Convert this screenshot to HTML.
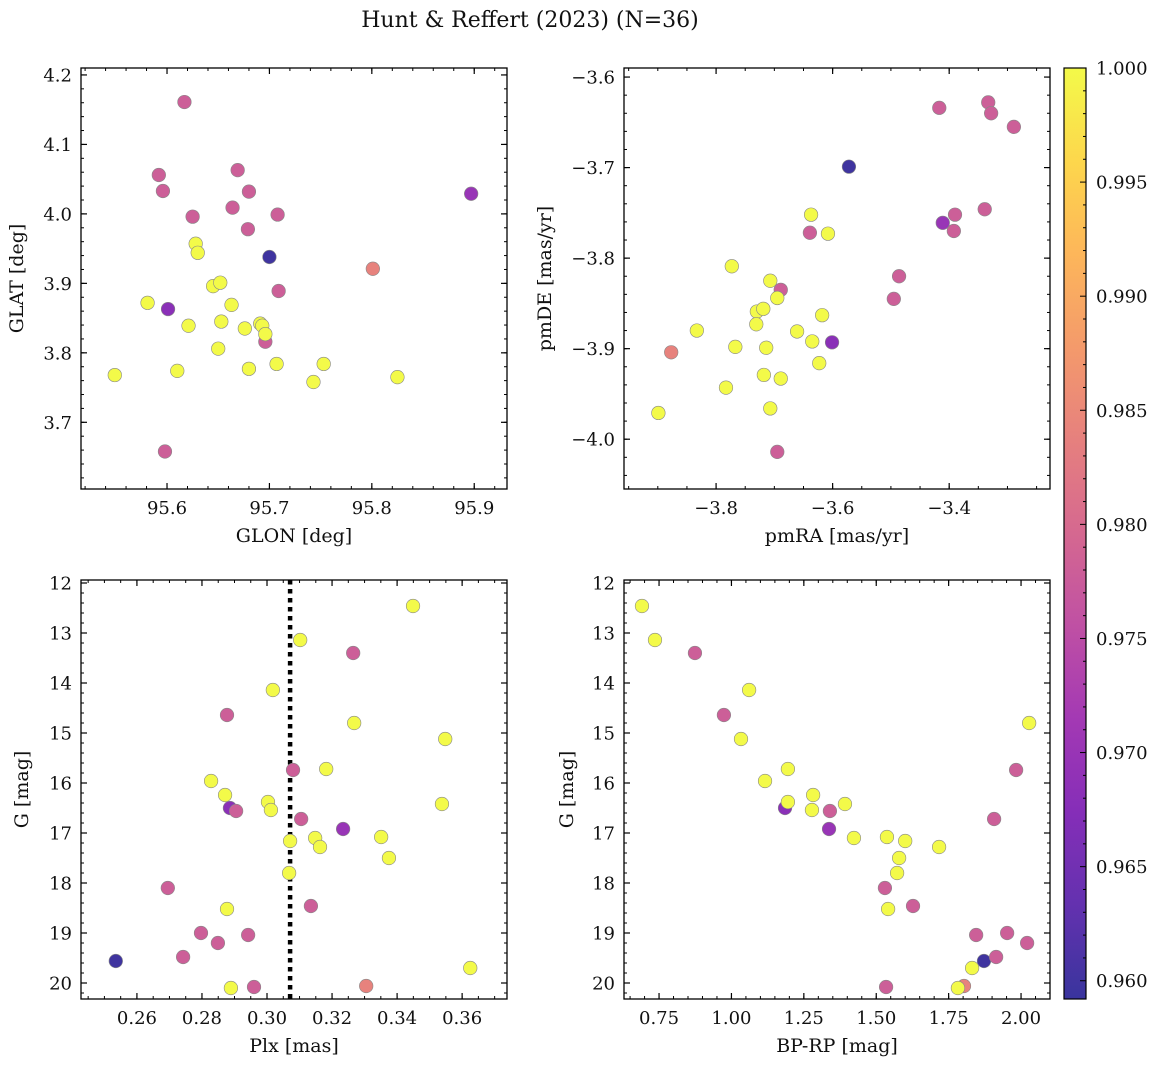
<!DOCTYPE html>
<html><head><meta charset="utf-8"><style>
html,body{margin:0;padding:0;background:#fff;}
svg{display:block;font-family:"DejaVu Serif","Liberation Serif",serif;}
</style></head><body>
<svg id="fig" width="1161" height="1067" viewBox="0 0 1161 1067" xmlns="http://www.w3.org/2000/svg">
<text x="530" y="27" font-size="22" text-anchor="middle" fill="#111">Hunt &amp; Reffert (2023) (N=36)</text>
</svg>
<script>
// star order: navy, purple x2, salmon, magenta x12, yellow x20
const prob = [0.9598,0.968,0.970,0.984,
 0.978,0.978,0.978,0.978,0.978,0.978,0.978,0.978,0.978,0.978,0.978,0.978,
 1.0,1.0,1.0,1.0,1.0,1.0,1.0,1.0,1.0,1.0,1.0,1.0,1.0,1.0,1.0,1.0,1.0,1.0,1.0,1.0];
const glon = [95.700,95.601,95.897,95.801,
 95.617,95.592,95.596,95.669,95.680,95.664,95.625,95.708,95.679,95.709,95.696,95.598,
 95.628,95.630,95.581,95.645,95.652,95.663,95.653,95.621,95.676,95.691,95.693,95.696,95.650,95.707,95.680,95.753,95.549,95.610,95.743,95.825];
const glat = [3.938,3.863,4.029,3.921,
 4.161,4.056,4.033,4.063,4.032,4.009,3.996,3.999,3.978,3.889,3.816,3.658,
 3.957,3.944,3.872,3.896,3.901,3.869,3.845,3.839,3.835,3.842,3.839,3.827,3.806,3.784,3.777,3.784,3.768,3.774,3.758,3.765];
const pmra = [-3.572,-3.601,-3.411,-3.877,
 -3.333,-3.417,-3.328,-3.289,-3.390,-3.392,-3.339,-3.639,-3.486,-3.689,-3.495,-3.695,
 -3.637,-3.608,-3.773,-3.707,-3.695,-3.730,-3.719,-3.731,-3.833,-3.767,-3.714,-3.661,-3.618,-3.635,-3.623,-3.689,-3.718,-3.783,-3.707,-3.899];
const pmde = [-3.699,-3.893,-3.761,-3.904,
 -3.628,-3.634,-3.640,-3.655,-3.752,-3.770,-3.746,-3.772,-3.820,-3.835,-3.845,-4.014,
 -3.752,-3.773,-3.809,-3.825,-3.844,-3.859,-3.856,-3.873,-3.880,-3.898,-3.899,-3.881,-3.863,-3.892,-3.916,-3.933,-3.929,-3.943,-3.966,-3.971];
const plx = [0.2535,0.2886,0.3234,0.3305,
 0.3265,0.2877,0.2905,0.3080,0.3105,0.2695,0.3135,0.2742,0.2797,0.2849,0.2942,0.2960,
 0.3449,0.3102,0.3018,0.3268,0.3548,0.2828,0.3182,0.2871,0.3003,0.3012,0.3538,0.3148,0.3351,0.3163,0.3375,0.3071,0.3068,0.2877,0.2889,0.3625];
const gmag = [19.56,16.50,16.92,20.06,
 13.40,14.64,16.56,15.74,16.72,18.10,18.46,19.48,19.00,19.20,19.04,20.08,
 12.46,13.14,14.14,14.80,15.12,15.96,15.72,16.24,16.38,16.54,16.42,17.10,17.08,17.28,17.50,17.16,17.80,18.52,20.10,19.70];
const bprp = [1.872,1.185,1.337,1.803,
 0.874,0.974,1.340,1.983,1.907,1.530,1.627,1.914,1.952,2.021,1.845,1.534,
 0.691,0.736,1.061,2.028,1.033,1.116,1.195,1.282,1.195,1.278,1.392,1.423,1.537,1.717,1.579,1.600,1.572,1.541,1.782,1.831];
const plxMedian = 0.3071;
const ticksGlon = [95.6,95.7,95.8,95.9];
const ticksGlat = [3.7,3.8,3.9,4.0,4.1,4.2];
const ticksPmra = [-3.8,-3.6,-3.4];
const ticksPmde = [-4.0,-3.9,-3.8,-3.7,-3.6];
const ticksPlx = [0.26,0.28,0.30,0.32,0.34,0.36];
const ticksG = [12,13,14,15,16,17,18,19,20];
const ticksBprp = [0.75,1.00,1.25,1.50,1.75,2.00];
const ticksCbar = [0.960,0.965,0.970,0.975,0.980,0.985,0.990,0.995,1.000];
const vmin = 0.9592, vmax = 1.0;

const NS = "http://www.w3.org/2000/svg";
const svg = document.getElementById('fig');
function mk(tag, attrs, parent){ const e=document.createElementNS(NS,tag); for(const k in attrs) e.setAttribute(k,attrs[k]); (parent||svg).appendChild(e); return e; }
const stops = ["#0d0887","#41049d","#6a00a8","#8f0da4","#b12a90","#cc4778","#e16462","#f2844b","#fca636","#fcce25","#f0f921"];
function hex(h){return [parseInt(h.slice(1,3),16),parseInt(h.slice(3,5),16),parseInt(h.slice(5,7),16)];}
function plasma(t){ t=Math.max(0,Math.min(1,t)); const f=t*10, i=Math.min(9,Math.floor(f)), r=f-i;
  const a=hex(stops[i]), b=hex(stops[i+1]);
  const c=a.map((v,k)=>Math.round((v+(b[k]-v)*r)*0.82+255*0.18));
  return `rgb(${c[0]},${c[1]},${c[2]})`; }
function cmap(p){ return plasma((p-vmin)/(vmax-vmin)); }

function panel(o){
  const {x0,x1,y0,y1,xmin,xmax,ymin,ymax,name} = o;
  const sx = v => x0 + (v-xmin)/(xmax-xmin)*(x1-x0);
  const sy = v => o.invert ? y0 + (v-ymin)/(ymax-ymin)*(y1-y0) : y1 - (v-ymin)/(ymax-ymin)*(y1-y0);
  const g = mk('g',{});
  
  
  const eps=1e-9;
  for(let v=Math.ceil(xmin/o.xminor-eps)*o.xminor; v<=xmax+eps; v+=o.xminor){
    const x=sx(v); mk('line',{x1:x,x2:x,y1:y1,y2:y1-3,stroke:'#000','stroke-width':1},g); mk('line',{x1:x,x2:x,y1:y0,y2:y0+3,stroke:'#000','stroke-width':1},g); }
  for(let v=Math.ceil(ymin/o.yminor-eps)*o.yminor; v<=ymax+eps; v+=o.yminor){
    const y=sy(v); mk('line',{x1:x0,x2:x0+3,y1:y,y2:y,stroke:'#000','stroke-width':1},g); mk('line',{x1:x1,x2:x1-3,y1:y,y2:y,stroke:'#000','stroke-width':1},g); }
  o.xticks.forEach(v=>{ const x=sx(v);
    mk('line',{x1:x,x2:x,y1:y1,y2:y1-6,stroke:'#000','stroke-width':1.2},g); mk('line',{x1:x,x2:x,y1:y0,y2:y0+6,stroke:'#000','stroke-width':1.2},g);
    const t=mk('text',{x:x,y:y1+25,'font-size':18,'text-anchor':'middle',fill:'#111'},g); t.textContent=o.xfmt(v);
      });
  o.yticks.forEach(v=>{ const y=sy(v);
    mk('line',{x1:x0,x2:x0+6,y1:y,y2:y,stroke:'#000','stroke-width':1.2},g); mk('line',{x1:x1,x2:x1-6,y1:y,y2:y,stroke:'#000','stroke-width':1.2},g);
    const t=mk('text',{x:x0-9,y:y+6.5,'font-size':18,'text-anchor':'end',fill:'#111'},g); t.textContent=o.yfmt(v);
      });
  if(o.vline!==undefined){ const x=sx(o.vline);
    const l=mk('line',{x1:x,x2:x,y1:y0,y2:y1,stroke:'#000','stroke-width':4.5,'stroke-dasharray':'4.5 4.5'},g);
      }
  o.xs.forEach((xv,i)=>{
    const c=mk('circle',{cx:sx(xv),cy:sy(o.ys[i]),r:6.8,fill:cmap(prob[i]),stroke:'#888','stroke-width':0.6},g);
      });
  mk('rect',{x:x0,y:y0,width:x1-x0,height:y1-y0,fill:'none',stroke:'#000','stroke-width':1.3},g);
  const xl=mk('text',{x:(x0+x1)/2,y:y1+53,'font-size':19,'text-anchor':'middle',fill:'#111'},g); xl.textContent=o.xlabel;
   
  const yx=o.ylabx, yc=(y0+y1)/2;
  const yl=mk('text',{x:yx,y:yc,'font-size':19,'text-anchor':'middle',fill:'#111',transform:`rotate(-90 ${yx} ${yc})`},g); yl.textContent=o.ylabel;
   
}
const f1=v=>v.toFixed(1), f2=v=>v.toFixed(2), fm1=v=>'\u2212'+Math.abs(v).toFixed(1), f0=v=>String(v);
panel({name:'glon-glat-panel',x0:81,x1:507,y0:68,y1:489,xmin:95.516,xmax:95.932,ymin:3.604,ymax:4.210,xminor:0.02,yminor:0.02,
  xticks:ticksGlon,yticks:ticksGlat,xfmt:f1,yfmt:f1,xs:glon,ys:glat,xlabel:'GLON [deg]',ylabel:'GLAT [deg]',ylabx:23});
panel({name:'pm-panel',x0:624,x1:1050,y0:68,y1:489,xmin:-3.958,xmax:-3.227,ymin:-4.055,ymax:-3.590,xminor:0.05,yminor:0.02,
  xticks:ticksPmra,yticks:ticksPmde,xfmt:fm1,yfmt:fm1,xs:pmra,ys:pmde,xlabel:'pmRA [mas/yr]',ylabel:'pmDE [mas/yr]',ylabx:551});
panel({name:'plx-g-panel',x0:81,x1:507,y0:580,y1:999,xmin:0.2428,xmax:0.3738,ymin:11.94,ymax:20.32,invert:true,xminor:0.005,yminor:0.2,
  xticks:ticksPlx,yticks:ticksG,xfmt:f2,yfmt:f0,xs:plx,ys:gmag,vline:plxMedian,xlabel:'Plx [mas]',ylabel:'G [mag]',ylabx:28});
panel({name:'cmd-panel',x0:624,x1:1050,y0:580,y1:999,xmin:0.629,xmax:2.100,ymin:11.94,ymax:20.32,invert:true,xminor:0.05,yminor:0.2,
  xticks:ticksBprp,yticks:ticksG,xfmt:f2,yfmt:f0,xs:bprp,ys:gmag,xlabel:'BP-RP [mag]',ylabel:'G [mag]',ylabx:573});

const cb = mk('g',{});


const cx0=1064,cx1=1086,cy0=68,cy1=999;
const defs=mk('defs',{},cb);
const lg=mk('linearGradient',{id:'cbg',x1:0,y1:1,x2:0,y2:0},defs);
for(let i=0;i<=20;i++){ mk('stop',{offset:(i/20),'stop-color':plasma(i/20)},lg); }
mk('rect',{x:cx0,y:cy0,width:cx1-cx0,height:cy1-cy0,fill:'url(#cbg)'},cb);
const cbY=v=>cy1-(v-vmin)/(vmax-vmin)*(cy1-cy0);
for(let k=960;k<=1000;k++){ const v=k/1000, y=cbY(v); if(y<cy0-0.5) continue;
  mk('line',{x1:cx1,x2:cx1-(k%5===0?6:3),y1:y,y2:y,stroke:'#000','stroke-width':1},cb); }
ticksCbar.forEach(v=>{ const y=cbY(v);
  const t=mk('text',{x:cx1+10,y:y+6.5,'font-size':18,fill:'#111'},cb); t.textContent=v.toFixed(3);
    });
mk('rect',{x:cx0,y:cy0,width:cx1-cx0,height:cy1-cy0,fill:'none',stroke:'#000','stroke-width':1.2},cb);
</script>
</body></html>
